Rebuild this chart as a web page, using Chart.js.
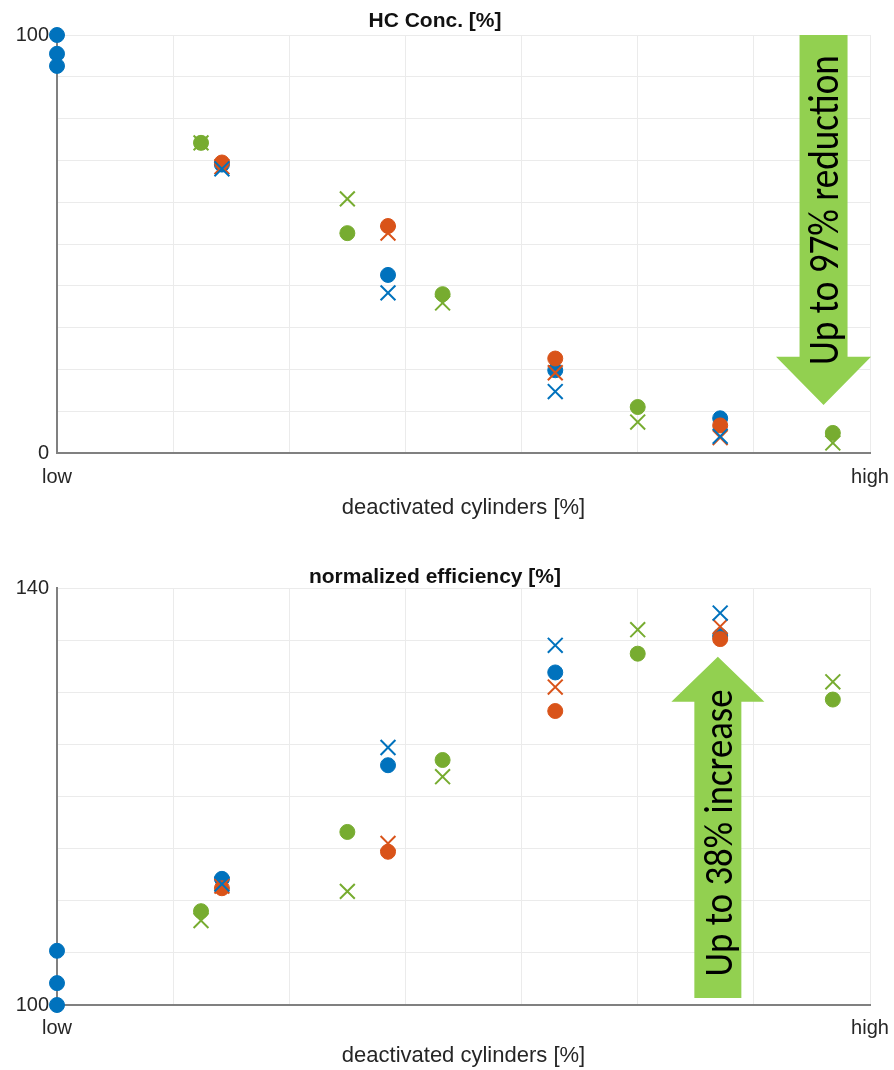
<!DOCTYPE html>
<html>
<head>
<meta charset="utf-8">
<script src="https://cdn.jsdelivr.net/npm/chart.js@4.4.1/dist/chart.umd.min.js"></script>
<style>
  html, body { margin: 0; padding: 0; background: #ffffff; }
  #wrap { position: relative; width: 894px; height: 1070px; overflow: hidden; }
  canvas { position: absolute; left: 0; }
  #c1 { top: 0; }
  #c2 { top: 540px; }
</style>
</head>
<body>
<div id="wrap">
  <canvas id="c1" width="894" height="530"></canvas>
  <canvas id="c2" width="894" height="530"></canvas>
</div>
<script>
// ---------------- DATA ----------------
const xTickLabels = { 0: 'low', 7: 'high' };
const xAxisTitle = 'deactivated cylinders [%]';

// operating points (x positions on the "deactivated cylinders" axis)
const baselineX = [0, 0, 0];
const pairX = [1.42, 2.85, 4.29, 5.71];      // blue & orange series
const greenX = [1.24, 2.5, 3.32, 5.0, 6.68];  // green series

// HC concentration [%]
const hcTitle = 'HC Conc. [%]';
const hcYTickLabels = [0, 100];
const hcBaseline = [100, 95.5, 92.6];
const hcBlueCircle = [69.0, 42.6, 19.8, 8.3];
const hcBlueCross = [68.0, 38.3, 14.7, 4.0];
const hcOrangeCircle = [69.5, 54.3, 22.6, 6.6];
const hcOrangeCross = [68.5, 52.6, 19.2, 3.7];
const hcGreenCircle = [74.2, 52.6, 38.0, 11.0, 4.8];
const hcGreenCross = [74.2, 60.8, 35.9, 7.4, 2.4];
const hcNote = 'Up to 97% reduction';

// normalized efficiency [%]
const effTitle = 'normalized efficiency [%]';
const effYTickLabels = [100, 140];
const effBaseline = [105.2, 102.1, 100.0];
const effBlueCircle = [112.1, 123.0, 131.9, 135.4];
const effBlueCross = [111.6, 124.7, 134.5, 137.6];
const effOrangeCircle = [111.2, 114.7, 128.2, 135.1];
const effOrangeCross = [111.4, 115.5, 130.5, 136.3];
const effGreenCircle = [109.0, 116.6, 123.5, 133.7, 129.3];
const effGreenCross = [108.1, 110.9, 121.9, 136.0, 131.0];
const effNote = 'Up to 38% increase';

// ---------------- STYLE ----------------
const FONT = "'Liberation Sans', Arial, Helvetica, sans-serif";
const NOTE_FONT = "Carlito, Lato, 'Open Sans', sans-serif";
const BLUE = '#0072BD', ORANGE = '#D95319', GREEN = '#77AC30';
const ARROW_GREEN = '#92D050';

function pts(xs, ys) { return xs.map((x, i) => ({ x: x, y: ys[i] })); }

function circleSet(xs, ys, color) {
  return { data: pts(xs, ys), pointStyle: 'circle', pointRadius: 7.5, pointBorderWidth: 1,
           backgroundColor: color, borderColor: color, showLine: false, clip: false };
}
function crossSet(xs, ys, color) {
  return { data: pts(xs, ys), pointStyle: 'crossRot', pointRadius: 10.5, pointBorderWidth: 2,
           backgroundColor: color, borderColor: color, showLine: false, clip: false };
}

const arrowPlugin = {
  id: 'arrowNote',
  afterDraw(chart, args, o) {
    if (!o || !o.text) return;
    const ctx = chart.ctx, xs = chart.scales.x, ys = chart.scales.y;
    const cx = xs.getPixelForValue(o.x);
    const yTail = ys.getPixelForValue(o.tail);
    const yBase = ys.getPixelForValue(o.headBase);
    const yTip = ys.getPixelForValue(o.tip);
    const sw = o.shaftWidth / 2, hw = o.headWidth / 2;
    ctx.save();
    ctx.fillStyle = o.color;
    ctx.beginPath();
    ctx.moveTo(cx - sw, yTail);
    ctx.lineTo(cx + sw, yTail);
    ctx.lineTo(cx + sw, yBase);
    ctx.lineTo(cx + hw, yBase);
    ctx.lineTo(cx, yTip);
    ctx.lineTo(cx - hw, yBase);
    ctx.lineTo(cx - sw, yBase);
    ctx.closePath();
    ctx.fill();
    ctx.translate(cx, ys.getPixelForValue(o.textY));
    ctx.rotate(-Math.PI / 2);
    ctx.scale(o.condense, 1);
    let size = 30;
    ctx.font = size + 'px ' + NOTE_FONT;
    const w = ctx.measureText(o.text).width * o.condense;
    size = size * o.textLength / w;
    ctx.font = size.toFixed(2) + 'px ' + NOTE_FONT;
    ctx.fillStyle = '#000000';
    ctx.textAlign = 'center';
    ctx.textBaseline = 'alphabetic';
    ctx.fillText(o.text, 0, o.baselineOffset);
    ctx.restore();
  }
};

function makeChart(id, cfg) {
  return new Chart(document.getElementById(id), {
    type: 'scatter',
    data: {
      datasets: [
        crossSet(pairX, cfg.blueCross, BLUE),
        crossSet(pairX, cfg.orangeCross, ORANGE),
        crossSet(greenX, cfg.greenCross, GREEN),
        circleSet(pairX, cfg.orangeCircle, ORANGE),
        circleSet(pairX, cfg.blueCircle, BLUE),
        circleSet(greenX, cfg.greenCircle, GREEN),
        circleSet(baselineX, cfg.baseline, BLUE)
      ]
    },
    plugins: [arrowPlugin],
    options: {
      responsive: false,
      animation: false,
      events: [],
      layout: { padding: { left: 0, right: 24, top: 0, bottom: 0 } },
      plugins: {
        legend: { display: false },
        tooltip: { enabled: false },
        title: {
          display: true, text: cfg.title, color: '#111111',
          font: { family: FONT, size: 21, weight: 'bold', lineHeight: 1.0 },
          padding: { top: cfg.titleTop, bottom: cfg.titleBottom }
        },
        arrowNote: cfg.arrow
      },
      scales: {
        x: {
          type: 'linear', min: 0, max: 7,
          afterFit: (s) => { s.height = cfg.xHeight; s.paddingRight = 0; s.paddingLeft = 0; },
          ticks: {
            stepSize: 1, autoSkip: false, maxRotation: 0, color: '#262626',
            font: { family: FONT, size: 20, lineHeight: 1.2 }, padding: cfg.xTickPad,
            callback: (v) => (xTickLabels[v] !== undefined ? xTickLabels[v] : '')
          },
          grid: { color: '#ebebeb', lineWidth: 1, drawTicks: false },
          border: { color: '#808080', width: 2 },
          title: {
            display: true, text: xAxisTitle, color: '#262626',
            font: { family: FONT, size: 22, lineHeight: 1.2 },
            padding: { top: 0, bottom: cfg.xTitleBottom }
          }
        },
        y: {
          type: 'linear', min: cfg.yMin, max: cfg.yMax,
          afterFit: (s) => { s.width = 57; },
          ticks: {
            stepSize: cfg.yStep, autoSkip: false, color: '#262626',
            font: { family: FONT, size: 20 }, padding: 8,
            callback: (v) => (cfg.yLabels.includes(v) ? String(v) : '')
          },
          grid: { color: '#ebebeb', lineWidth: 1, drawTicks: false },
          border: { color: '#808080', width: 2 }
        }
      }
    }
  });
}

makeChart('c1', {
  title: hcTitle, titleTop: 11, titleBottom: 3,
  xHeight: 77, xTickPad: 12, xTitleBottom: 9,
  yMin: 0, yMax: 100, yStep: 10, yLabels: hcYTickLabels,
  baseline: hcBaseline, blueCircle: hcBlueCircle, blueCross: hcBlueCross,
  orangeCircle: hcOrangeCircle, orangeCross: hcOrangeCross,
  greenCircle: hcGreenCircle, greenCross: hcGreenCross,
  arrow: { text: hcNote, x: 6.6, tail: 100, headBase: 23.0, tip: 11.5,
           shaftWidth: 48, headWidth: 95, color: ARROW_GREEN,
           textY: 58.1, textLength: 310, baselineOffset: 14, condense: 0.88 }
});

makeChart('c2', {
  title: effTitle, titleTop: 27, titleBottom: 0,
  xHeight: 65, xTickPad: 11, xTitleBottom: 1,
  yMin: 100, yMax: 140, yStep: 5, yLabels: effYTickLabels,
  baseline: effBaseline, blueCircle: effBlueCircle, blueCross: effBlueCross,
  orangeCircle: effOrangeCircle, orangeCross: effOrangeCross,
  greenCircle: effGreenCircle, greenCross: effGreenCross,
  arrow: { text: effNote, x: 5.69, tail: 100.67, headBase: 129.1, tip: 133.4,
           shaftWidth: 47, headWidth: 93, color: ARROW_GREEN,
           textY: 116.5, textLength: 287, baselineOffset: 14, condense: 0.88 }
});
</script>
</body>
</html>
